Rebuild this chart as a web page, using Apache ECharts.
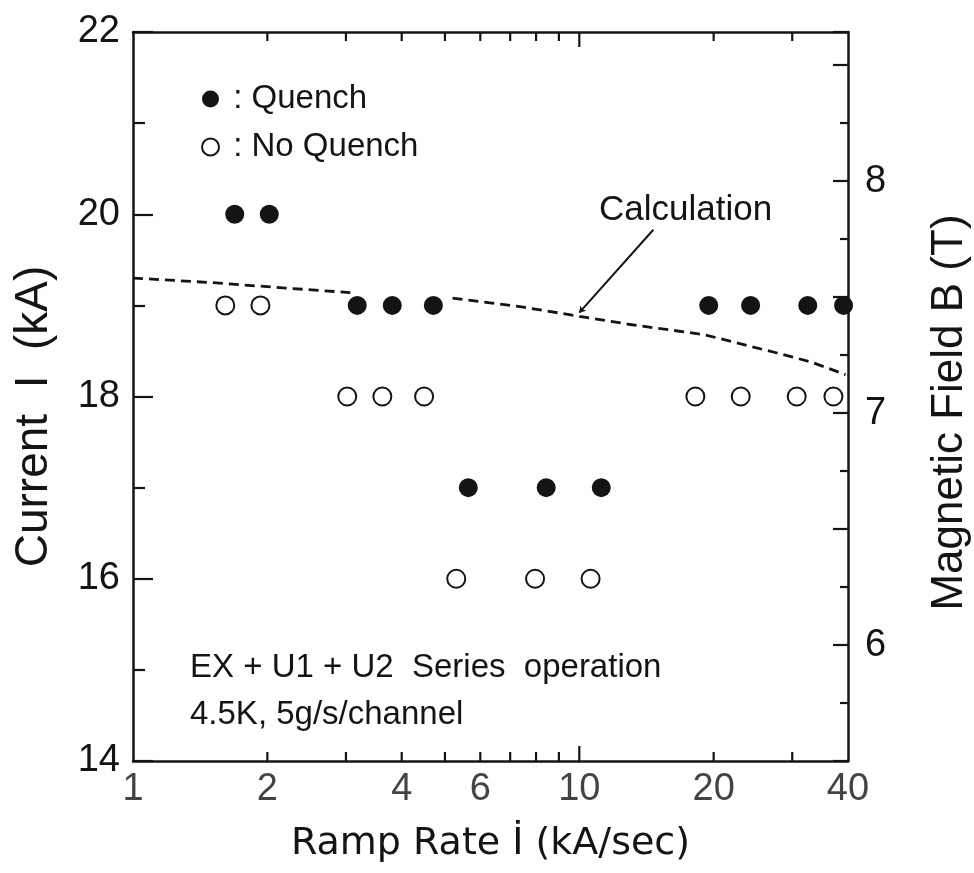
<!DOCTYPE html>
<html>
<head>
<meta charset="utf-8">
<script src="https://cdn.jsdelivr.net/npm/echarts@6/dist/echarts.min.js"></script>
<style>
html,body{margin:0;padding:0;background:#fff;}
#chart{width:974px;height:873px;}
</style>
</head>
<body>
<div id="chart"></div>
<script>
// ---- data ----
const quenchX   = [1.69, 2.02, 3.18, 3.81, 4.71, 5.64, 8.43, 11.2, 19.5, 24.2, 32.5, 39.1];
const quenchY   = [20, 20, 19, 19, 19, 17, 17, 17, 19, 19, 19, 19];
const noQuenchX = [1.61, 1.93, 3.02, 3.62, 4.49, 5.30, 7.96, 10.6, 18.2, 23.0, 30.7, 37.1];
const noQuenchY = [19, 19, 18, 18, 18, 16, 16, 16, 18, 18, 18, 18];
// calculation curve (null = gap behind the markers)
const calcX = [1, 1.5, 2.2, 3.07, null, 5.2, 7.5, 10, 13, 19, 27.6, 33, 39.5];
const calcY = [19.30, 19.25, 19.19, 19.14, null, 19.08, 18.98, 18.88, 18.79, 18.68, 18.48, 18.38, 18.24];
const xTickLabels = [1, 2, 4, 6, 10, 20, 40];
const xMinorTicks = [2, 3, 4, 5, 6, 7, 8, 9, 20, 30];
const xMajorTicks = [10];
const leftYTicks = [14, 16, 18, 20, 22];
const rightBLabels = [6, 7, 8];

const X_MIN = 1, X_MAX = 40, Y_MIN = 14, Y_MAX = 22;
const B_MIN = 5.5, B_MAX = Y_MAX * B_MIN / Y_MIN;

const INK = '#141414';
const SANS = '"Liberation Sans", Arial, sans-serif';
const DJV = '"DejaVu Sans", sans-serif';

const zip = (a, b) => a.map((v, i) => (v === null || b[i] === null) ? '-' : [v, b[i]]);

const chart = echarts.init(document.getElementById('chart'), null, {renderer: 'canvas'});

function tickSeries(values, yVal, len, dir) {
  return {
    type: 'scatter', silent: true, z: 5,
    data: values.map(v => [v, yVal]),
    symbol: 'rect', symbolSize: [2.2, len],
    symbolOffset: [0, dir * len / 2],
    itemStyle: {color: INK, opacity: 1},
    clip: false
  };
}

const option = {
  animation: false,
  backgroundColor: '#fff',
  grid: {left: 133, right: 126, top: 32, bottom: 112, containLabel: false, outerBoundsMode: 'none'},
  legend: {
    data: [{name: 'Quench'}, {name: 'No Quench'}],
    orient: 'vertical', left: 196, top: 72,
    itemWidth: 17, itemHeight: 17, itemGap: 4,
    selectedMode: false,
    formatter: n => ' : ' + n,
    textStyle: {fontFamily: SANS, fontSize: 33, color: INK, lineHeight: 44}
  },
  xAxis: [{
    type: 'log', logBase: 10, min: X_MIN, max: X_MAX, position: 'bottom',
    axisLine: {lineStyle: {color: INK, width: 2.5}},
    axisTick: {show: false}, axisLabel: {show: false}, splitLine: {show: false},
    name: 'Ramp Rate İ (kA/sec)', nameLocation: 'middle', nameGap: 64,
    nameTextStyle: {fontFamily: DJV, fontSize: 38, color: INK}
  }, {
    type: 'log', logBase: 10, min: X_MIN, max: X_MAX, position: 'top',
    axisLine: {lineStyle: {color: INK, width: 2.5}},
    axisTick: {show: false}, axisLabel: {show: false}, splitLine: {show: false}
  }],
  yAxis: [{
    type: 'value', min: Y_MIN, max: Y_MAX, interval: 2, position: 'left',
    axisLine: {show: true, lineStyle: {color: INK, width: 2.5}},
    axisTick: {show: true, inside: true, length: 20, lineStyle: {color: INK, width: 2.2}},
    minorTick: {show: true, splitNumber: 2, length: 12, lineStyle: {color: INK, width: 2.2}},
    axisLabel: {margin: 13, fontFamily: SANS, fontSize: 38, color: INK,
      formatter: v => leftYTicks.includes(v) ? String(v) : ''},
    splitLine: {show: false},
    name: 'Current  I  (kA)', nameLocation: 'middle', nameGap: 76,
    nameTextStyle: {fontFamily: SANS, fontSize: 46, color: INK, padding: [0, 40, 0, 0]}
  }, {
    type: 'value', min: B_MIN, max: B_MAX, interval: 0.5, position: 'right',
    axisLine: {show: true, lineStyle: {color: INK, width: 2.5}},
    axisTick: {show: true, inside: true, length: 15, lineStyle: {color: INK, width: 2.2}},
    minorTick: {show: true, splitNumber: 2, length: 8, lineStyle: {color: INK, width: 2.2}},
    axisLabel: {margin: 17, fontFamily: SANS, fontSize: 38, color: INK,
      formatter: v => rightBLabels.includes(Math.round(v * 1000) / 1000) ? String(v) : ''},
    splitLine: {show: false},
    name: 'Magnetic Field B (T)', nameLocation: 'middle', nameGap: 80,
    nameTextStyle: {fontFamily: SANS, fontSize: 44, color: INK, padding: [0, 32, 0, 0]}
  }],
  series: [
    {
      name: 'Calculation', type: 'line', z: 2,
      data: zip(calcX, calcY), connectNulls: false,
      showSymbol: false, symbol: 'none', smooth: false,
      lineStyle: {color: INK, width: 2.8, type: [10, 6]},
      markLine: {
        silent: true, symbol: ['none', 'arrow'], symbolSize: 6,
        lineStyle: {color: INK, width: 2, type: 'solid'},
        label: {show: false},
        data: [[{coord: [14.65, 19.83]}, {coord: [10.0, 18.92]}]]
      },
      markPoint: {
        silent: true, symbol: 'circle', symbolSize: 1,
        itemStyle: {color: 'rgba(0,0,0,0)'},
        label: {show: true, position: 'inside', formatter: 'Calculation',
          fontFamily: SANS, fontSize: 35, color: INK},
        data: [{coord: [17.3, 20.04]}]
      }
    },
    {
      name: 'Quench', type: 'scatter', z: 4,
      data: zip(quenchX, quenchY),
      symbol: 'circle', symbolSize: 19,
      itemStyle: {color: INK, opacity: 1}
    },
    {
      name: 'No Quench', type: 'scatter', z: 4,
      data: zip(noQuenchX, noQuenchY),
      symbol: 'emptyCircle', symbolSize: 18,
      itemStyle: {color: INK, borderWidth: 2.3, opacity: 1}
    },
    tickSeries(xMinorTicks, Y_MIN, 9, -1),
    tickSeries(xMajorTicks, Y_MIN, 15, -1),
    tickSeries(xMinorTicks, Y_MAX, 9, 1),
    tickSeries(xMajorTicks, Y_MAX, 15, 1),
    {
      type: 'scatter', silent: true, z: 5, clip: false,
      data: xTickLabels.map(v => [v, Y_MIN]),
      symbol: 'circle', symbolSize: 1, itemStyle: {color: 'rgba(0,0,0,0)'},
      label: {show: true, position: 'bottom', distance: 9,
        formatter: p => String(p.value[0]),
        fontFamily: SANS, fontSize: 38, color: INK}
    }
  ],
  graphic: [
    {type: 'text', x: 190, y: 668, z: 10,
      style: {text: 'EX + U1 + U2  Series  operation', fontFamily: 'Liberation Sans', fontSize: 33, fill: INK, verticalAlign: 'middle'}},
    {type: 'text', x: 190, y: 715, z: 10,
      style: {text: '4.5K, 5g/s/channel', fontFamily: 'Liberation Sans', fontSize: 33, fill: INK, verticalAlign: 'middle'}}
  ]
};
chart.setOption(option);
</script>
</body>
</html>
